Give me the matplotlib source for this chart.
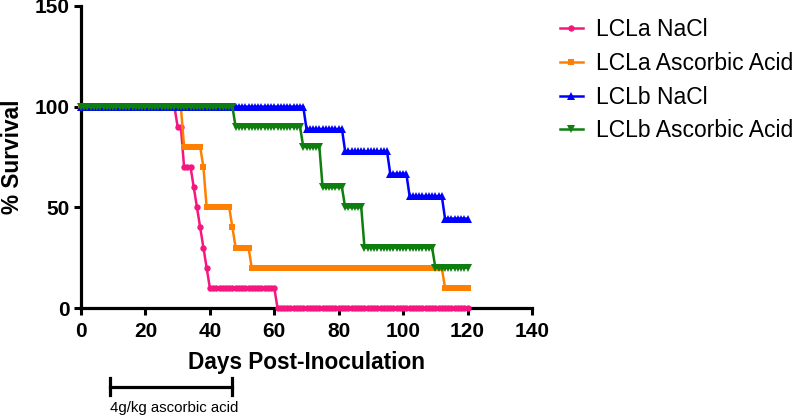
"""Kaplan-Meier style survival plot: LCLa / LCLb with NaCl vs ascorbic acid."""

import matplotlib

matplotlib.use("Agg")
import matplotlib.pyplot as plt
import numpy as np

plt.rcParams["font.family"] = ["Liberation Sans", "DejaVu Sans"]

# ---------------------------------------------------------------------------
# Data: day at which survival changes, and the new % survival
# ---------------------------------------------------------------------------
LAST_DAY = 120

lcla_nacl_days = [0, 30, 32, 35, 36, 37, 38, 39, 40, 61]
lcla_nacl_surv = [100, 90, 70, 60, 50, 40, 30, 20, 10, 0]

lcla_aa_days = [0, 32, 38, 39, 47, 48, 53, 113]
lcla_aa_surv = [100, 80, 70, 50, 40, 30, 20, 10]

lclb_nacl_days = [0, 70, 82, 96, 102, 113]
lclb_nacl_surv = [100, 88.9, 77.8, 66.7, 55.6, 44.4]

lclb_aa_days = [0, 48, 69, 75, 82, 88, 110]
lclb_aa_surv = [100, 90, 80, 60, 50, 30, 20]

labels = ["LCLa NaCl", "LCLa Ascorbic Acid", "LCLb NaCl", "LCLb Ascorbic Acid"]
x_ticks = [0, 20, 40, 60, 80, 100, 120, 140]
y_ticks = [0, 50, 100, 150]

treat_start, treat_end = 9, 47
treat_label = "4g/kg ascorbic acid"

COLORS = ["#F5167F", "#FF8000", "#0000FF", "#0E7F0E"]
MARKERS = ["o", "s", "^", "v"]
MSIZES = [4.6, 5.0, 5.8, 5.8]


def daily(days, surv):
    d = np.arange(0, LAST_DAY + 1)
    idx = np.searchsorted(days, d, side="right") - 1
    return d, np.asarray(surv, dtype=float)[idx]


fig = plt.figure(figsize=(8, 4.16), dpi=100)
ax = fig.add_axes([81 / 800, 1 - 308 / 416, 451 / 800, 302 / 416])

series = [
    (lcla_nacl_days, lcla_nacl_surv),
    (lcla_aa_days, lcla_aa_surv),
    (lclb_nacl_days, lclb_nacl_surv),
    (lclb_aa_days, lclb_aa_surv),
]
for i, (days, surv) in enumerate(series):
    x, y = daily(days, surv)
    ax.plot(
        x, y,
        color=COLORS[i],
        marker=MARKERS[i],
        markersize=MSIZES[i],
        markeredgewidth=0,
        linewidth=1.8,
        label=labels[i],
        clip_on=False,
        zorder=3 + i,
    )

ax.set_xlim(0, 140)
ax.set_ylim(0, 150)
ax.set_xticks(x_ticks)
ax.set_yticks(y_ticks)

for side in ("top", "right"):
    ax.spines[side].set_visible(False)
for side in ("left", "bottom"):
    ax.spines[side].set_linewidth(2.3)
ax.tick_params(length=5, width=2.2, direction="out", labelsize=15, pad=3)
for lab in ax.get_xticklabels() + ax.get_yticklabels():
    lab.set_fontweight("bold")
ax.tick_params(axis="x", pad=5)

ax.set_xlabel("Days Post-Inoculation", fontsize=16.3, fontweight="bold")
ax.xaxis.set_label_coords(0.5, -0.182)
ax.xaxis.label.set_va("center")
fig.text(12.5 / 800, 0.5 * (1 - 308 / 416) + 0.5 * (1 - 6 / 416), "% Survival",
         rotation=90, ha="center", va="center",
         fontsize=16.3, fontweight="bold")

# treatment window bar under the axis
trans = ax.get_xaxis_transform()
ax.plot([treat_start, treat_end], [-0.262, -0.262], color="black",
        linewidth=2.3, transform=trans, clip_on=False)
for xe in (treat_start, treat_end):
    ax.plot([xe, xe], [-0.232, -0.287], color="black",
            linewidth=2.3, transform=trans, clip_on=False)
ax.text(treat_start, -0.330, treat_label, transform=trans,
        ha="left", va="center", fontsize=10.8)

fig.legend(
    loc="upper left",
    bbox_to_anchor=(560 / 800, 1 - 18 / 416),
    frameon=False,
    fontsize=16.5,
    handlelength=1.0,
    handletextpad=0.58,
    labelspacing=0.47,
    borderpad=0,
    borderaxespad=0,
    numpoints=1,
)

fig.savefig("out.png", dpi=100)
